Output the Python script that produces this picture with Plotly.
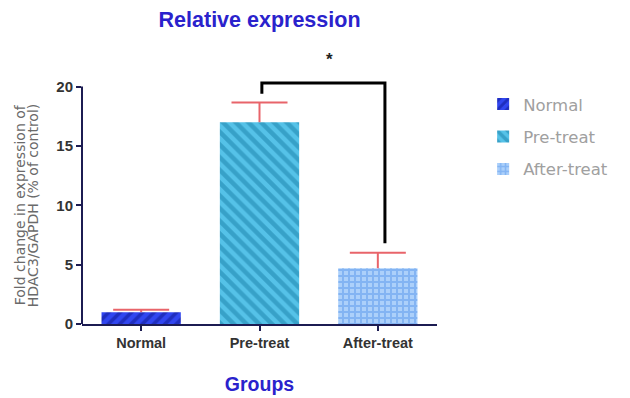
import plotly.graph_objects as go

# Group means and upper SEM
groups = ["Normal", "Pre-treat", "After-treat"]
means = [1.0, 17.0, 4.7]
sem = [0.2, 1.65, 1.3]

# Bar styles per group
fills = [
    dict(bg="#3146f0", fg="#0d168c", shape="/", size=8, solidity=0.45),
    dict(bg="#55c2e8", fg="#1a80a8", shape="\\", size=9, solidity=0.5),
    dict(bg="#acd0fa", fg="#5a98ec", shape="+", size=6, solidity=0.55),
]

# Significance bracket between Pre-treat and After-treat
bracket_top = 20.3
bracket_left_end = 19.4
bracket_right_end = 6.8
star_y = 22.3

font_main = "Liberation Sans, Arial"
font_wide = "DejaVu Sans, Verdana"
navy = "#1c1c52"
err_color = "#e8646a"

fig = go.Figure()
for i, (g, m, s, f) in enumerate(zip(groups, means, sem, fills)):
    fig.add_trace(go.Bar(
        x=[g], y=[m], name=g, width=0.67, legendgroup=g,
        marker=dict(
            color=f["bg"],
            line=dict(width=0),
            pattern=dict(shape=f["shape"], fgcolor=f["fg"], bgcolor=f["bg"],
                         size=f["size"], solidity=f["solidity"], fillmode="overlay"),
        ),
        # stem only; the cap is drawn as a marker at the top
        error_y=dict(type="data", array=[s], arrayminus=[0], symmetric=False,
                     color=err_color, thickness=2, width=0),
    ))

# Error-bar caps at mean + SEM
fig.add_trace(go.Scatter(
    x=groups, y=[m + s for m, s in zip(means, sem)], mode="markers",
    marker=dict(symbol="line-ew", size=40, line=dict(color=err_color, width=2)),
    showlegend=False, hoverinfo="skip",
))

fig.add_shape(type="line", xref="paper", yref="y", x0=0, x1=0, y0=0, y1=20,
              line=dict(color=navy, width=2))
fig.add_shape(type="path", xref="x", yref="y",
              path=f"M 1.02,{bracket_left_end} L 1.02,{bracket_top} L 2.06,{bracket_top} L 2.06,{bracket_right_end}",
              line=dict(color="black", width=3))
fig.add_annotation(x=1.59, y=star_y, xref="x", yref="y", text="<b>*</b>", showarrow=False,
                   font=dict(size=17, color="#222", family=font_main))

# Two-line y-axis label, centred on the 0-20 span
ylabel_lines = ["Fold change in expression of", "HDAC3/GAPDH (% of control)"]
for line_txt, px in zip(ylabel_lines, [20, 33]):
    fig.add_annotation(xref="paper", yref="y", x=(px - 82) / 355, y=10,
                       xanchor="center", yanchor="middle",
                       text=line_txt, textangle=-90, showarrow=False,
                       font=dict(size=14, color="#6a6a6a", family=font_wide))

fig.update_layout(
    width=630, height=398,
    margin=dict(l=82, r=193, t=45, b=74, autoexpand=False),
    paper_bgcolor="white", plot_bgcolor="white",
    title=dict(text="<b>Relative expression</b>", x=0.412, xanchor="center", y=0.95, yanchor="middle",
               font=dict(size=21.5, color="#2a22cc", family=font_main)),
    showlegend=True,
    legend=dict(x=1.13, y=0.85, xanchor="left", yanchor="top",
                font=dict(size=16.5, color="#a0a0a0", family=font_wide),
                itemsizing="constant", tracegroupgap=8),
    xaxis=dict(
        type="category", range=[-0.5, 2.5], automargin=False,
        showline=True, linecolor=navy, linewidth=2,
        ticks="outside", ticklen=5, tickwidth=2, tickcolor=navy,
        tickfont=dict(size=14.5, color="#333333", family=font_main, weight="bold"),
        title=dict(text="Groups", standoff=27,
                   font=dict(size=19.5, color="#2a22cc", family=font_main, weight="bold")),
        showgrid=False, zeroline=False,
    ),
    yaxis=dict(
        range=[0, 23.5], tickvals=[0, 5, 10, 15, 20], automargin=False,
        showline=False, showgrid=False, zeroline=False,
        ticks="outside", ticklen=5, tickwidth=2, tickcolor=navy,
        tickfont=dict(size=15, color="#333333", family=font_main, weight="bold"),
    ),
)

fig.write_html("out.html")
